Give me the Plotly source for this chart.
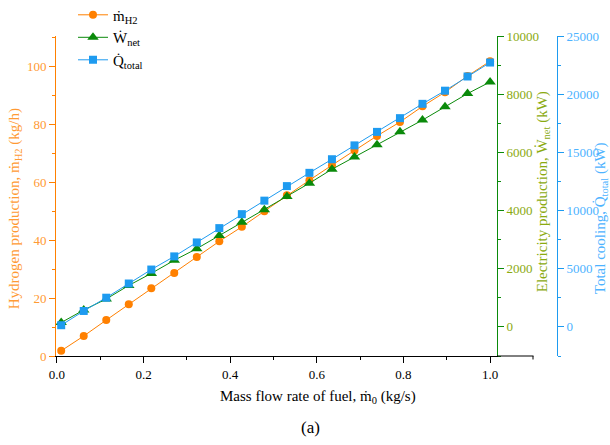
import plotly.graph_objects as go

fuel_flow = [0.01, 0.062, 0.114, 0.166, 0.218, 0.271, 0.323, 0.375, 0.427, 0.479,
             0.531, 0.583, 0.635, 0.687, 0.739, 0.792, 0.844, 0.896, 0.948, 1.0]
h2_production = [1.8, 6.9, 12.4, 17.9, 23.4, 28.7, 34.2, 39.6, 44.6, 50.0,
                 55.5, 60.7, 65.9, 71.0, 76.0, 80.8, 86.2, 91.1, 96.7, 101.8]
w_net = [150, 580, 960, 1425, 1840, 2290, 2690, 3140, 3595, 4030,
         4485, 4940, 5420, 5840, 6260, 6710, 7110, 7565, 8020, 8420]
q_total = [145, 1370, 2510, 3730, 4930, 6060, 7260, 8490, 9690, 10850,
           12100, 13240, 14410, 15600, 16760, 17940, 19170, 20300, 21520, 22720]

FONT = "Liberation Serif, Times New Roman, serif"
ORANGE = "#FF8000"
ORANGE_TXT = "#FF9A33"
GREEN = "#0A8A0A"
GREEN_TXT = "#8AAA10"
BLUE = "#1E9BF0"
BLUE_TXT = "#4DB3FF"

fig = go.Figure()
fig.add_trace(go.Scatter(x=fuel_flow, y=h2_production, name="ṁ<sub>H2</sub>",
                         mode="lines+markers", line=dict(color=ORANGE, width=1),
                         marker=dict(symbol="circle", size=8, color=ORANGE), yaxis="y"))
fig.add_trace(go.Scatter(x=fuel_flow, y=w_net, name="Ẇ<sub>net</sub>",
                         mode="lines+markers", line=dict(color=GREEN, width=1),
                         marker=dict(symbol="triangle-up", size=10, color=GREEN), yaxis="y2"))
fig.add_trace(go.Scatter(x=fuel_flow, y=q_total, name="Q̇<sub>total</sub>",
                         mode="lines+markers", line=dict(color=BLUE, width=1),
                         marker=dict(symbol="square", size=8, color=BLUE), yaxis="y3"))

L, R, T, B = 56, 53, 35.5, 89
W, H = 610, 445
pw = W - L - R
ph = H - T - B
def px(x):
    return (x - L) / pw
def py(y):
    return (H - B - y) / ph

fig.update_layout(
    width=W, height=H,
    margin=dict(l=L, r=R, t=T, b=B, autoexpand=False),
    paper_bgcolor="white", plot_bgcolor="white",
    font=dict(family=FONT, size=13, color="black"),
    showlegend=True,
    legend=dict(x=px(73), y=py(-2), xanchor="left", yanchor="top",
                font=dict(family=FONT, size=15, color="black"),
                bgcolor="rgba(0,0,0,0)", tracegroupgap=0),
    xaxis=dict(domain=[0, px(497)], range=[-0.002, 1.016], dtick=0.2, tick0=0,
               tickformat=".1f", showgrid=False, zeroline=False,
               showline=True, linecolor="black", linewidth=1,
               ticks="outside", ticklen=6, tickcolor="black",
               minor=dict(dtick=0.1, ticklen=3, tickcolor="black", ticks="outside"),
               tickfont=dict(family=FONT, size=13, color="black")),
    yaxis=dict(range=[0, 110.5], dtick=20, tick0=0, showgrid=False, zeroline=False,
               showline=True, linecolor=ORANGE, linewidth=1,
               ticks="outside", ticklen=6, tickcolor=ORANGE,
               minor=dict(dtick=10, ticklen=3, tickcolor=ORANGE, ticks="outside"),
               tickfont=dict(family=FONT, size=13, color=ORANGE_TXT)),
    yaxis2=dict(range=[-1000, 10000], dtick=2000, tick0=0, overlaying="y", side="right",
                anchor="x", showgrid=False, zeroline=False, tickformat="d",
                showline=True, linecolor=GREEN, linewidth=1,
                ticks="outside", ticklen=6, tickcolor=GREEN,
                minor=dict(dtick=1000, ticklen=3, tickcolor=GREEN, ticks="outside"),
                tickfont=dict(family=FONT, size=13, color=GREEN_TXT)),
    yaxis3=dict(range=[-2500, 25000], dtick=5000, tick0=0, overlaying="y", side="right",
                anchor="free", position=1.0, showgrid=False, zeroline=False, tickformat="d",
                showline=True, linecolor=BLUE, linewidth=1,
                ticks="outside", ticklen=6, tickcolor=BLUE,
                minor=dict(dtick=2500, ticklen=3, tickcolor=BLUE, ticks="outside"),
                tickfont=dict(family=FONT, size=13, color=BLUE_TXT)),
)

# x-axis line continues past the right axis (as in the original layered figure)
fig.add_shape(type="line", xref="paper", yref="paper", x0=px(497), x1=px(533.5), y0=0, y1=0,
              line=dict(color="black", width=1))
fig.add_shape(type="line", xref="paper", yref="paper", x0=px(533), x1=px(533),
              y0=py(356), y1=py(359.5), line=dict(color="black", width=1))

ann = [
    dict(text="Hydrogen production, ṁ<sub>H2</sub> (kg/h)", x=px(15), y=py(209),
         textangle=-90, font=dict(family=FONT, size=15, color=ORANGE_TXT)),
    dict(text="Electricity production, Ẇ<sub>net</sub> (kW)", x=px(543), y=py(192),
         textangle=-90, font=dict(family=FONT, size=15, color=GREEN_TXT)),
    dict(text="Total cooling, Q̇<sub>total</sub> (kW)", x=px(601), y=py(218),
         textangle=-90, font=dict(family=FONT, size=15, color=BLUE_TXT)),
    dict(text="Mass flow rate of fuel, ṁ<sub>0</sub> (kg/s)", x=px(318), y=py(397),
         font=dict(family=FONT, size=15, color="black")),
    dict(text="(a)", x=px(310), y=py(428), font=dict(family=FONT, size=17, color="black")),
]
for a in ann:
    fig.add_annotation(xref="paper", yref="paper", showarrow=False,
                       xanchor="center", yanchor="middle", **a)

fig.write_html("out.html")
